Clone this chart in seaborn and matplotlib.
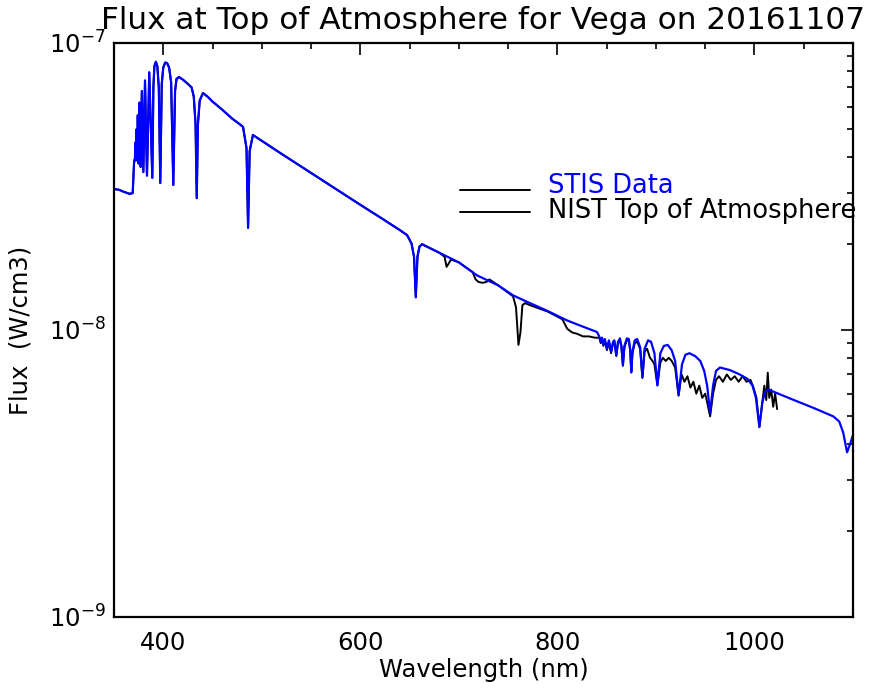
import numpy as np
import pandas as pd
import matplotlib
matplotlib.use("Agg")
import matplotlib.pyplot as plt
import seaborn as sns
from matplotlib.ticker import MultipleLocator, LogLocator, LogFormatterMathtext, NullFormatter

# ---------------- data (wavelength in nm, flux in 1e-8 W/cm3) ----------------
stis_wl = [350, 355, 360, 366, 369, 370.5, 371.2, 371.8, 372.2, 372.9, 373.4, 374.2, 375.0,
           376.0, 377.1, 378.3, 379.8, 381.5, 383.5, 385.8, 388.9, 390.0, 391.0, 392.5, 394.0,
           395.5, 397.0, 398.5, 400.0, 402.0, 404.0, 406.0, 408.0, 410.2, 412.0, 413.5, 416.0,
           420, 425, 428.8, 431.0, 432.8, 434.0, 435.2, 437.0, 440.3, 445, 450, 460, 470, 478,
           481, 484.5, 486.1, 487.7, 491, 500, 520, 540, 560, 580, 600, 620, 640, 647.5, 652,
           654.5, 656.3, 658.0, 660, 662.6, 680, 700, 718.4, 740, 755, 770, 790, 809.7, 825,
           840.2, 842.5, 844.0, 845.3, 846.7, 848.2, 850.3, 852.3, 854.5, 856.5, 857.8, 859.8,
           861.5, 863.5, 865.0, 866.5, 868.0, 870.5, 872.5, 874.0, 875.0, 876.2, 878.5, 881,
           884, 886.3, 888.5, 892, 895, 898.5, 901.5, 904.5, 908, 912, 916, 919.5, 923.0,
           926.5, 930, 934, 940, 945, 949, 952, 955.0, 958, 961, 965, 975, 985, 993, 998,
           1001.5, 1005.0, 1008, 1011, 1014, 1040, 1060, 1080, 1086, 1090, 1094, 1097, 1100]
stis_flux = [3.10, 3.08, 3.03, 2.98, 3.00, 3.9, 3.9, 4.5, 3.9, 5.0, 3.9, 5.6, 3.8,
             6.2, 3.7, 6.8, 3.55, 7.4, 3.45, 7.9, 3.39, 7.0, 8.3, 8.6, 8.3,
             7.0, 3.25, 7.2, 8.2, 8.55, 8.5, 8.2, 7.3, 3.20, 6.8, 7.5, 7.61,
             7.45, 7.2, 7.0, 6.5, 5.2, 2.88, 5.2, 6.3, 6.69, 6.5, 6.25, 5.85, 5.45, 5.2,
             5.1, 4.3, 2.27, 4.2, 4.78, 4.56, 4.11, 3.71, 3.35, 3.02, 2.73, 2.47, 2.23, 2.14, 2.0,
             1.8, 1.30, 1.8, 1.95, 1.99, 1.86, 1.72, 1.55, 1.43, 1.32, 1.25, 1.165, 1.08, 1.03,
             0.984, 0.95, 0.91, 0.94, 0.89, 0.93, 0.86, 0.92, 0.84, 0.91, 0.92, 0.818,
             0.91, 0.935, 0.88, 0.755, 0.88, 0.935, 0.93, 0.85, 0.714, 0.84, 0.92, 0.93,
             0.87, 0.686, 0.86, 0.92, 0.91, 0.83, 0.643, 0.83, 0.88, 0.887, 0.85, 0.78, 0.594,
             0.76, 0.82, 0.83, 0.81, 0.78, 0.72, 0.64, 0.514, 0.64, 0.72, 0.74, 0.725, 0.70, 0.675, 0.64,
             0.58, 0.459, 0.56, 0.61, 0.62, 0.57, 0.535, 0.50, 0.48, 0.44, 0.375, 0.40, 0.43]

nist_wl = [350, 355, 360, 366, 369, 370.5, 371.2, 371.8, 372.2, 372.9, 373.4, 374.2, 375.0,
           376.0, 377.1, 378.3, 379.8, 381.5, 383.5, 385.8, 388.9, 390.0, 391.0, 392.5, 394.0,
           395.5, 397.0, 398.5, 400.0, 402.0, 404.0, 406.0, 408.0, 410.2, 412.0, 413.5, 416.0,
           420, 425, 428.8, 431.0, 432.8, 434.0, 435.2, 437.0, 440.3, 445, 450, 460, 470, 478,
           481, 484.5, 486.1, 487.7, 491, 500, 520, 540, 560, 580, 600, 620, 640, 647.5, 652,
           654.5, 656.3, 658.0, 660, 662.6,
           680, 685.5, 687.5, 689.5, 692, 700, 714, 717, 720, 724, 728, 731, 740, 755, 758,
           760.5, 762.5, 764.5, 767, 775, 790, 805, 810, 815, 820, 826, 832, 838, 842.5,
           844.0, 845.3, 846.7, 848.2, 850.3, 852.3, 854.5, 856.5, 857.8, 859.8, 861.5, 863.5,
           865.0, 866.5, 868.0, 870.5, 872.5, 874.0, 875.0, 876.2, 878.5, 881, 884, 886.3,
           888.5, 891, 894, 896.5, 898.5, 901.5, 904.5, 907, 910, 913, 916, 919.5, 923.0,
           926, 929, 932, 935, 938, 941, 944, 947, 950, 952, 955.0, 958, 961, 964, 968, 972,
           976, 980, 984, 988, 992, 996, 999, 1002, 1005.0, 1008, 1010, 1012, 1013.5, 1015,
           1017, 1019, 1021, 1023]
nist_flux = [3.10, 3.08, 3.03, 2.98, 3.00, 3.9, 3.9, 4.5, 3.9, 5.0, 3.9, 5.6, 3.8,
             6.2, 3.7, 6.8, 3.55, 7.4, 3.45, 7.9, 3.39, 7.0, 8.3, 8.6, 8.3,
             7.0, 3.25, 7.2, 8.2, 8.55, 8.5, 8.2, 7.3, 3.20, 6.8, 7.5, 7.61,
             7.45, 7.2, 7.0, 6.5, 5.2, 2.88, 5.2, 6.3, 6.69, 6.5, 6.25, 5.85, 5.45, 5.2,
             5.1, 4.3, 2.27, 4.2, 4.78, 4.56, 4.11, 3.71, 3.35, 3.02, 2.73, 2.47, 2.23, 2.14, 2.0,
             1.8, 1.30, 1.8, 1.95, 1.99,
             1.86, 1.80, 1.66, 1.70, 1.76, 1.72, 1.59, 1.50, 1.47, 1.46, 1.47, 1.50, 1.43, 1.31, 1.20,
             0.887, 0.98, 1.22, 1.24, 1.21, 1.16, 1.09, 1.01, 0.98, 0.97, 0.95, 0.95, 0.94, 0.94,
             0.90, 0.93, 0.88, 0.92, 0.85, 0.91, 0.83, 0.90, 0.91, 0.81, 0.90, 0.92,
             0.87, 0.75, 0.87, 0.92, 0.92, 0.84, 0.71, 0.83, 0.90, 0.91, 0.86, 0.68,
             0.84, 0.86, 0.80, 0.78, 0.76, 0.64, 0.77, 0.80, 0.78, 0.80, 0.78, 0.74, 0.59,
             0.70, 0.66, 0.69, 0.63, 0.66, 0.60, 0.64, 0.58, 0.60, 0.56, 0.50, 0.60, 0.67, 0.69, 0.66, 0.70,
             0.67, 0.69, 0.66, 0.69, 0.66, 0.67, 0.63, 0.58, 0.46, 0.56, 0.64, 0.57, 0.71, 0.58,
             0.62, 0.54, 0.60, 0.53]

flux_unit = 1e-8
x_ticks = [400, 600, 800, 1000]
legend_labels = ["STIS Data", "NIST Top of Atmosphere"]
title = "Flux at Top of Atmosphere for Vega on 20161107"

stis = pd.DataFrame({"wl": stis_wl, "flux": np.array(stis_flux) * flux_unit})
nist = pd.DataFrame({"wl": nist_wl, "flux": np.array(nist_flux) * flux_unit})

# ---------------- style ----------------
sns.set_theme(style="white")
plt.rcParams["font.family"] = ["DejaVu Sans"]
plt.rcParams["axes.edgecolor"] = "black"
plt.rcParams["text.color"] = "black"
plt.rcParams["axes.labelcolor"] = "black"
plt.rcParams["xtick.color"] = "black"
plt.rcParams["ytick.color"] = "black"

fig = plt.figure(figsize=(8.72, 6.92), dpi=100)
ax = fig.add_axes([0.1307, 0.1084, 0.8475, 0.8295])

sns.lineplot(data=nist, x="wl", y="flux", color="black", lw=1.4, ax=ax,
             estimator=None, sort=False)
sns.lineplot(data=stis, x="wl", y="flux", color="#0000ff", lw=1.6, ax=ax,
             estimator=None, sort=False)

ax.set_yscale("log")
ax.set_xlim(350, 1100)
ax.set_ylim(1e-9, 1e-7)

ax.set_xticks(x_ticks)
ax.xaxis.set_minor_locator(MultipleLocator(50))
ax.yaxis.set_major_locator(LogLocator(base=10))
ax.yaxis.set_minor_locator(LogLocator(base=10, subs=np.arange(2, 10)))
ax.yaxis.set_major_formatter(LogFormatterMathtext())
ax.yaxis.set_minor_formatter(NullFormatter())

ax.tick_params(which="both", direction="in", top=True, right=True, width=1.2,
               labelsize=17.5)
ax.tick_params(which="minor", labelleft=False, labelbottom=False)
ax.tick_params(which="major", length=8.5)
ax.tick_params(which="minor", length=4.5)
ax.tick_params(axis="x", which="major", pad=10)
ax.tick_params(axis="y", which="major", pad=6)
for s in ax.spines.values():
    s.set_linewidth(1.6)
    s.set_color("black")

ax.set_xlabel("Wavelength (nm)", fontsize=17.5, labelpad=2)
ax.set_ylabel("Flux  (W/cm3)", fontsize=17.5, labelpad=12)
ax.set_title(title, fontsize=22.4, pad=10)

# legend (IDL style: both sample lines black, coloured labels)
for yy in (0.744, 0.706):
    ax.plot([0.468, 0.563], [yy, yy], transform=ax.transAxes, color="black", lw=1.4)
ax.text(0.587, 0.751, legend_labels[0], color="#0000ff", fontsize=18.5,
        transform=ax.transAxes, va="center", ha="left")
ax.text(0.587, 0.708, legend_labels[1], color="black", fontsize=18.5,
        transform=ax.transAxes, va="center", ha="left", clip_on=False)

fig.savefig("out.png", dpi=100)
